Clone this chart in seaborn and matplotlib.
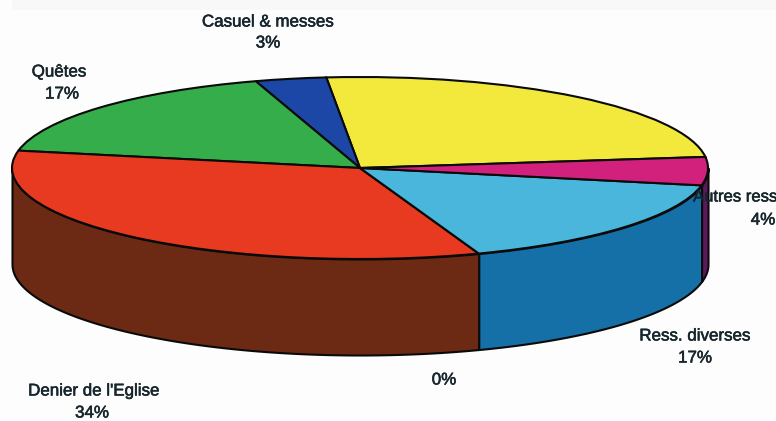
import numpy as np
import matplotlib
matplotlib.use("Agg")
import matplotlib.pyplot as plt
import matplotlib.patheffects as pe
import seaborn as sns

# Shares of resources (%), counter-clockwise from the yellow slice
names = ["", "Casuel & messes", "Quêtes", "Denier de l'Eglise", "", "Ress. diverses", "Autres ress"]
values = [24.6, 3.3, 17.1, 33.6, 0, 16.4, 5.0]
pct_labels = ["", "3%", "17%", "34%", "0%", "17%", "4%"]

top_colors = ["#f2e93c", "#1c47a6", "#36ad4b", "#e83a20", "#7d7d7d", "#4bb6dc", "#d1217d"]
side_colors = ["#8f8a20", "#102a66", "#1f6a2d", "#6c2a15", "#444444", "#1570a8", "#5c1a5c"]

# pixel geometry of the pie in the picture
W, H = 776, 421
CX, CY, RX, RY, DEPTH = 360, 168, 348, 91, 96
START = 7

# label centres in pixels
label_pos = {
    "Casuel & messes": (268, 22, 268, 43),
    "Quêtes": (59, 72, 62, 94),
    "Denier de l'Eglise": (94, 391, 92, 413),
    "Ress. diverses": (695, 336, 695, 358),
}

sns.set_theme(style="white")
plt.rcParams["font.family"] = ["Liberation Sans", "DejaVu Sans"]

fig, ax = plt.subplots(figsize=(W / 100, H / 100), dpi=100)
fig.subplots_adjust(0, 0, 1, 1)
fig.patch.set_facecolor("#fefdfd")
ax.patch.set_visible(False)

# top of the pie
wedges, _ = ax.pie(
    values,
    colors=sns.color_palette(top_colors),
    startangle=START,
    counterclock=True,
    radius=1,
    wedgeprops=dict(edgecolor="#0a0a0a", linewidth=1.5, zorder=3),
)

# side walls, only the front half of the disc shows
d = DEPTH / RY
for w, col in zip(wedges, side_colors):
    a = max(w.theta1, 180)
    b = min(w.theta2, 360)
    if b <= a:
        continue
    t = np.radians(np.linspace(a, b, 100))
    ax.fill_between(np.cos(t), np.sin(t), np.sin(t) - d,
                    facecolor=col, edgecolor="#0a0a0a", linewidth=1.5, zorder=2)

# squash the disc: pixel space mapped onto the unit circle
ax.set_aspect("auto")
ax.set_xlim(-CX / RX, (W - CX) / RX)
ax.set_ylim((CY - H) / RY, CY / RY)
ax.set_axis_off()

# faint strip at the very top of the scan
fig.patches.append(plt.Rectangle((12 / W, 1 - 10 / H), 1 - 12 / W, 10 / H,
                                 transform=fig.transFigure, facecolor="#f8f8f8",
                                 edgecolor="none"))


def put(text, px, py, ha="center", size=12.2):
    t = fig.text(px / W, 1 - py / H, text, ha=ha, va="center", fontsize=size, color="#16262c")
    t.set_path_effects([pe.withStroke(linewidth=0.4, foreground="#16262c")])


for name, pct in zip(names, pct_labels):
    if name in label_pos:
        x1, y1, x2, y2 = label_pos[name]
        put(name, x1, y1)
        put(pct, x2, y2)

put("Autres ress", 693, 197, ha="left", size=12)
put("4%", 763, 220)
put("0%", 444, 380)

plt.savefig("out.png", dpi=100, facecolor=fig.get_facecolor())
